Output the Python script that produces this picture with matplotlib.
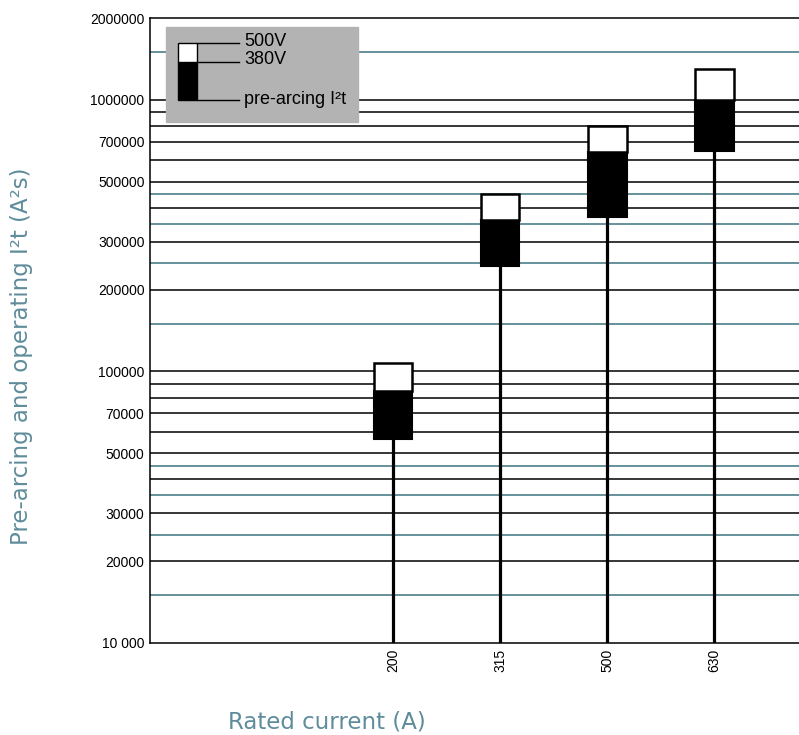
import matplotlib
matplotlib.use("Agg")
import matplotlib.pyplot as plt
from matplotlib.patches import Rectangle
from matplotlib.lines import Line2D

# ---- data ----
ratings = ["200", "315", "500", "630"]
prearc = [56500, 244000, 370000, 650000]      # pre-arcing I²t (bottom of black box)
op_380 = [85000, 360000, 640000, 1000000]     # operating I²t at 380 V
op_500 = [107000, 450000, 800000, 1300000]    # operating I²t at 500 V

black_grid = [20000, 30000, 40000, 50000, 60000, 70000, 80000, 90000, 100000,
              200000, 300000, 400000, 500000, 600000, 700000, 800000, 900000, 1000000]
teal_grid = [15000, 25000, 35000, 45000, 150000, 250000, 350000, 450000, 1500000]

ytick_vals = [10000, 20000, 30000, 50000, 70000, 100000, 200000, 300000,
              500000, 700000, 1000000, 2000000]
ytick_labels = ["10 000", "20000", "30000", "50000", "70000", "100000", "200000",
                "300000", "500000", "700000", "1000000", "2000000"]

TEAL = "#3d7480"
LABEL = "#5f8c9b"
W, H = 799, 735

fig = plt.figure(figsize=(W / 100, H / 100), dpi=100)
ax = fig.add_axes([150 / W, 1 - 643 / H, 649 / W, 625 / H])
ax.set_yscale("log")
ax.set_ylim(10000, 2000000)
ax.set_xlim(-2.271, 3.794)

for v in black_grid:
    ax.axhline(v, color="black", lw=1.1, zorder=1)
for v in teal_grid:
    ax.axhline(v, color=TEAL, lw=1.1, zorder=1)

x = list(range(len(ratings)))
ax.vlines(x, 10000, prearc, color="black", lw=2.3, zorder=2)
bw = 0.364
ax.bar(x, [b - a for a, b in zip(prearc, op_380)], bottom=prearc, width=bw,
       color="black", edgecolor="black", lw=1.5, zorder=3)
ax.bar(x, [b - a for a, b in zip(op_380, op_500)], bottom=op_380, width=bw,
       color="white", edgecolor="black", lw=1.8, zorder=3)

ax.yaxis.set_major_locator(matplotlib.ticker.FixedLocator(ytick_vals))
ax.yaxis.set_minor_locator(matplotlib.ticker.NullLocator())
ax.set_yticklabels(ytick_labels, fontsize=10, family="Liberation Sans")
ax.set_xticks(x)
ax.set_xticklabels(ratings, rotation=90, fontsize=10, family="Liberation Sans")
ax.tick_params(axis="both", length=0, pad=4)
ax.spines["right"].set_visible(False)
for s in ("left", "bottom", "top"):
    ax.spines[s].set_linewidth(1.1)

# ---- legend box (figure pixel coords) ----
def fx(px):
    return px / W

def fy(py):
    return 1 - py / H

tf = fig.transFigure
fig.add_artist(Rectangle((fx(166), fy(122)), 192 / W, 95 / H, color="#b3b3b3", transform=tf, zorder=5))
fig.add_artist(Rectangle((fx(178), fy(100)), 19 / W, 38 / H, facecolor="black", edgecolor="black",
                         lw=1, transform=tf, zorder=6))
fig.add_artist(Rectangle((fx(178), fy(62)), 19 / W, 19 / H, facecolor="white", edgecolor="black",
                         lw=1, transform=tf, zorder=6))
for py in (43, 62, 100):
    fig.add_artist(Line2D([fx(197), fx(239)], [fy(py), fy(py)], color="black", lw=1,
                          transform=tf, zorder=6))
for py, txt in [(42, "500V"), (60, "380V"), (99, "pre-arcing I²t")]:
    fig.text(fx(244), fy(py), txt, fontsize=13, family="Liberation Sans",
             va="center", ha="left", zorder=7)

fig.text(fx(327), fy(722), "Rated current (A)", fontsize=16.5, color=LABEL,
         family="DejaVu Sans", ha="center", va="center")
fig.text(fx(22), fy(356), "Pre-arcing and operating I²t (A²s)", fontsize=16.5, color=LABEL,
         family="DejaVu Sans", ha="center", va="center", rotation=90)

fig.savefig("out.png", dpi=100)
